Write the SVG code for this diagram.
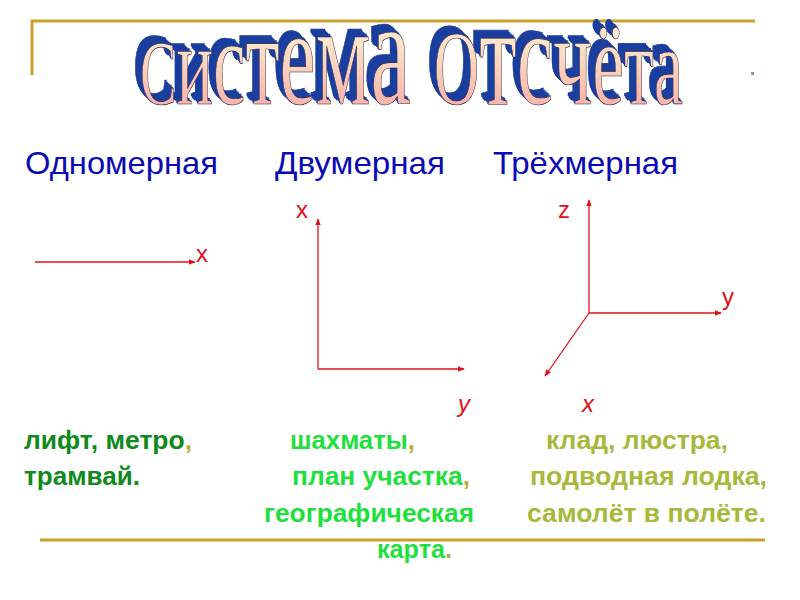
<svg xmlns="http://www.w3.org/2000/svg" width="800" height="600" viewBox="0 0 800 600">
<defs>
<linearGradient id="tg" x1="0" y1="0" x2="0" y2="1">
<stop offset="0" stop-color="#fffbe6"/>
<stop offset="0.45" stop-color="#fbe4c8"/>
<stop offset="1" stop-color="#f39a9a"/>
</linearGradient>
<filter id="ext" x="-5%" y="-30%" width="110%" height="150%">
<feFlood flood-color="#1d3f9e" result="blue"/>
<feComposite in="blue" in2="SourceAlpha" operator="in" result="sil"/>
<feOffset in="sil" dx="-1.2" dy="-0.7" result="o1"/>
<feOffset in="sil" dx="-2.4" dy="-1.4" result="o2"/>
<feOffset in="sil" dx="-3.6" dy="-2.1" result="o3"/>
<feOffset in="sil" dx="-4.8" dy="-2.8" result="o4"/>
<feOffset in="sil" dx="-6" dy="-3.5" result="o5"/>
<feOffset in="sil" dx="-7.2" dy="-4.2" result="o6"/>
<feMerge>
<feMergeNode in="o6"/><feMergeNode in="o5"/><feMergeNode in="o4"/><feMergeNode in="o3"/><feMergeNode in="o2"/><feMergeNode in="o1"/>
<feMergeNode in="SourceGraphic"/>
</feMerge>
</filter>
<marker id="ah" viewBox="0 0 10 10" refX="9" refY="5" markerWidth="7" markerHeight="7" orient="auto" markerUnits="userSpaceOnUse">
<path d="M0,1 L10,5 L0,9 Z" fill="#e0101a"/>
</marker>
<style>
.ax{stroke:#e0101a;stroke-width:1.3;fill:none;marker-end:url(#ah)}
.al{font-family:"Liberation Sans",Arial,sans-serif;font-size:24px;fill:#e0101a}
.hd{font-family:"Liberation Sans",Arial,sans-serif;font-size:32px;fill:#0a0ab4}
.bt{font-family:"Liberation Sans",Arial,sans-serif;font-size:25px;font-weight:bold}
.g1{fill:#108a1c}.g2{fill:#1ee03c}.g3{fill:#a8b83a}.ol{fill:#b6ad3a}
.ttl{font-family:"Liberation Serif","Times New Roman",serif;fill:url(#tg);stroke:#2a2040;stroke-width:0.4;filter:url(#ext)}
.gold{stroke:#c8a02a;stroke-width:3;fill:none}
</style>
</defs>
<rect width="800" height="600" fill="#fff"/>
<g id="frame">
<path class="gold" d="M755,21 L32,21 L32,75"/>
<line class="gold" x1="40" y1="540" x2="765" y2="540"/>
<rect x="751" y="72" width="3" height="3" fill="#a89a6a"/>
</g>
<g id="title">
<text class="ttl" transform="translate(0,104) scale(1,1.8)" x="140" y="0" textLength="543" lengthAdjust="spacingAndGlyphs"><tspan font-size="51">С</tspan><tspan font-size="64">и</tspan><tspan font-size="68">с</tspan><tspan font-size="73">т</tspan><tspan font-size="76">е</tspan><tspan font-size="81">м</tspan><tspan font-size="85">а </tspan><tspan font-size="59">О</tspan><tspan font-size="80">т</tspan><tspan font-size="76">с</tspan><tspan font-size="73">ч</tspan><tspan font-size="67">ё</tspan><tspan font-size="64">т</tspan><tspan font-size="61">а</tspan></text>
</g>
<g id="headers">
<text class="hd" x="25" y="174" textLength="193" lengthAdjust="spacingAndGlyphs">Одномерная</text>
<text class="hd" x="275" y="174" textLength="170" lengthAdjust="spacingAndGlyphs">Двумерная</text>
<text class="hd" x="493" y="174" textLength="185" lengthAdjust="spacingAndGlyphs">Трёхмерная</text>
</g>
<g id="connectors">
<line class="ax" x1="35" y1="262" x2="195" y2="262"/>
<line class="ax" x1="318" y1="369" x2="318" y2="219"/>
<line class="ax" x1="318" y1="369" x2="464" y2="369"/>
<line class="ax" x1="589" y1="313" x2="589" y2="200"/>
<line class="ax" x1="589" y1="313" x2="721" y2="313"/>
<line class="ax" x1="589" y1="313" x2="545" y2="376"/>
</g>
<g id="axis-labels">
<text class="al" x="196" y="262">x</text>
<text class="al" x="296" y="218">x</text>
<text class="al" x="558" y="218">z</text>
<text class="al" x="722" y="305">y</text>
<text class="al" x="458" y="412" font-style="italic">y</text>
<text class="al" x="582" y="412" font-style="italic">x</text>
</g>
<g id="col1">
<text class="bt" x="24" y="449" textLength="168" lengthAdjust="spacingAndGlyphs"><tspan class="g1">лифт, метро</tspan><tspan class="ol">,</tspan></text>
<text class="bt g1" x="24" y="485" textLength="116" lengthAdjust="spacingAndGlyphs">трамвай.</text>
</g>
<g id="col2">
<text class="bt" x="290" y="449" textLength="125" lengthAdjust="spacingAndGlyphs"><tspan class="g2">шахматы</tspan><tspan class="ol">,</tspan></text>
<text class="bt" x="292" y="485" textLength="178" lengthAdjust="spacingAndGlyphs"><tspan class="g2">план участка</tspan><tspan class="ol">,</tspan></text>
<text class="bt g2" x="264" y="522" textLength="210" lengthAdjust="spacingAndGlyphs">географическая</text>
<text class="bt" x="377" y="558" textLength="75" lengthAdjust="spacingAndGlyphs"><tspan class="g2">карта</tspan><tspan class="ol">.</tspan></text>
</g>
<g id="col3">
<text class="bt g3" x="546" y="449" textLength="182" lengthAdjust="spacingAndGlyphs">клад, люстра,</text>
<text class="bt g3" x="530" y="485" textLength="237" lengthAdjust="spacingAndGlyphs">подводная лодка,</text>
<text class="bt g3" x="527" y="522" textLength="239" lengthAdjust="spacingAndGlyphs">самолёт в полёте.</text>
</g>
</svg>
